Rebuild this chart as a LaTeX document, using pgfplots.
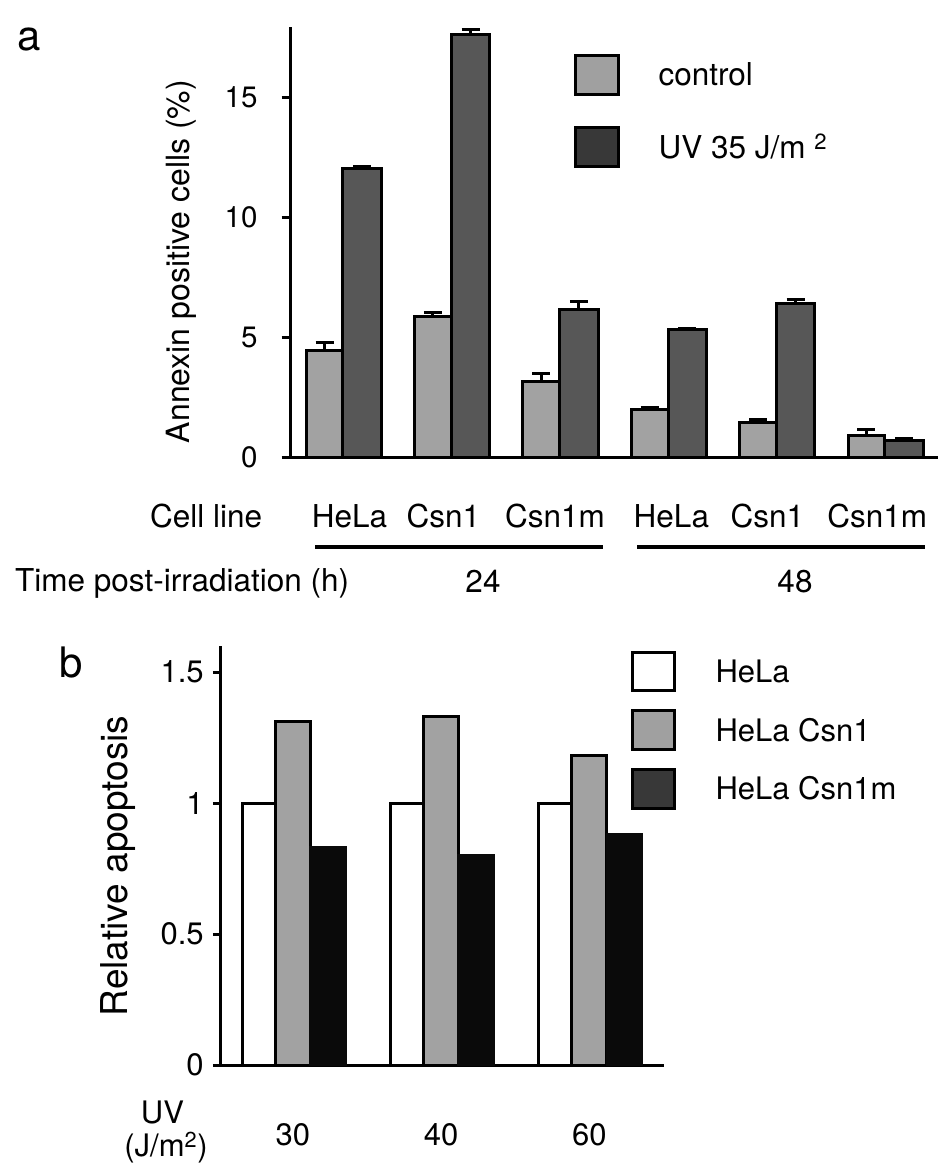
\documentclass[border=0pt]{standalone}
\usepackage{pgfplots}
\pgfplotsset{compat=1.18}
\usepackage{pgfplotstable}
\usepackage{fontspec}
\setmainfont{TeX Gyre Heros}
\definecolor{lg}{HTML}{A2A2A2}
\definecolor{lgleg}{HTML}{A0A0A0}
\definecolor{dgbar}{HTML}{575757}
\definecolor{dgleg}{HTML}{383838}
\definecolor{blk}{HTML}{0A0A0A}
\newcommand\fs[1]{\fontsize{#1bp}{#1bp}\selectfont}
\pgfplotsset{
  legboxa/.style={legend image code/.code={\draw[##1] (0bp,-19.5bp) rectangle (43bp,19.5bp);}},
  legboxb/.style={legend image code/.code={\draw[##1] (0bp,-19.3bp) rectangle (41.5bp,19.3bp);}},
}

% group position x; control bar at x-0.17, UV bar at x+0.1775
\pgfplotstableread{
xc xu c ce u ue
-0.17 0.1775 4.46 0.31 12.06 0.05
0.83 1.1775 5.88 0.17 17.65 0.21
1.83 2.1775 3.17 0.32 6.16 0.34
2.83 3.1775 1.99 0.07 5.32 0.04
3.83 4.1775 1.47 0.10 6.43 0.14
4.83 5.1775 0.92 0.26 0.72 0.08
}\tabA

\pgfplotstableread{
x h c m
0 1.00 1.31 0.83
1 1.00 1.33 0.80
2 1.00 1.18 0.88
}\tabB

\begin{document}
\begin{tikzpicture}
\path[use as bounding box] (0,0) rectangle (945bp,-1175bp);

% ---------------- panel a ----------------
\node[anchor=base west, inner sep=0pt, font=\fs{42}] at (17bp,-50bp) {a};
\begin{axis}[
  at={(290.6bp,-457.3bp)}, anchor=south west,
  scale only axis, width=647.4bp, height=430.4bp,
  xmin=-0.483, xmax=5.49, ymin=0, ymax=17.95,
  axis lines=left, axis line style={-, line width=3bp, black},
  tick align=outside, major tick length=9bp,
  ytick={0,5,10,15}, yticklabels={0,5,10,15},
  ytick style={line width=3bp, black},
  yticklabel style={anchor=east, inner sep=0pt, xshift=-24bp, font=\fs{29.5}},
  xtick={0.06,0.927,1.956,3.03,3.916,4.93},
  xticklabels={HeLa,Csn1,Csn1m,HeLa,Csn1,Csn1m},
  xtick style={draw=none},
  xticklabel style={anchor=base, inner sep=0pt, yshift=-61bp, font=\fs{31.5}},
  ylabel={Annexin positive cells (\%)},
  ylabel style={at={(axis description cs:-0.1554,0.455)}, anchor=base, font=\fs{32}, inner sep=0pt},
  legend style={at={(axis description cs:0.437,0.9375)}, anchor=north west,
    draw=none, fill=none, inner sep=0pt, outer sep=0pt,
    column sep=39bp, row sep=30bp, font=\fs{31.5},
    nodes={inner sep=0pt}},
  legend cell align=left,
]
\addplot[ybar, bar width=0.34, bar shift=0, fill=lg, draw=black, line width=3bp, forget plot,
  error bars/.cd, y dir=plus, y explicit, error mark=|,
  error bar style={line width=3bp, black},
  error mark options={mark size=9bp, line width=3bp, black}]
  table[x=xc, y=c, y error plus=ce] {\tabA};
\addplot[ybar, bar width=0.355, bar shift=0, fill=dgbar, draw=black, line width=3bp, forget plot,
  error bars/.cd, y dir=plus, y explicit, error mark=|,
  error bar style={line width=3bp, black},
  error mark options={mark size=9bp, line width=3bp, black}]
  table[x=xu, y=u, y error plus=ue] {\tabA};
\addlegendimage{legboxa, fill=lgleg, draw=black, line width=3bp}
\addlegendentry{control}
\addlegendimage{legboxa, fill=dgleg, draw=black, line width=3bp}
\addlegendentry{UV 35 J/m \textsuperscript{2}}
\end{axis}

\node[anchor=base west, inner sep=0pt, font=\fs{31.5}] at (150bp,-527bp) {Cell line};
\draw[line width=4bp] (315bp,-547bp) -- (603bp,-547bp);
\draw[line width=4bp] (637bp,-547bp) -- (925bp,-547bp);
\node[anchor=base west, inner sep=0pt, font=\fs{31.5}] at (15bp,-591bp) {Time post-irradiation (h)};
\node[anchor=base, inner sep=0pt, font=\fs{31.5}] at (483bp,-592bp) {24};
\node[anchor=base, inner sep=0pt, font=\fs{31.5}] at (795bp,-592bp) {48};

% ---------------- panel b ----------------
\node[anchor=base west, inner sep=0pt, font=\fs{42}] at (59bp,-677bp) {b};
\begin{axis}[
  at={(220.9bp,-1065bp)}, anchor=south west,
  scale only axis, width=442.6bp, height=419.2bp,
  xmin=-0.486, xmax=2.5, ymin=0, ymax=1.6,
  axis lines=left, axis line style={-, line width=3bp, black},
  tick align=outside, major tick length=8bp,
  ytick={0,0.5,1,1.5}, yticklabels={0,0.5,1,1.5},
  ytick style={line width=3bp, black},
  yticklabel style={anchor=east, inner sep=0pt, xshift=-9bp, font=\fs{31}},
  xtick={0,1,2}, xticklabels={30,40,60},
  xtick style={draw=none},
  xticklabel style={anchor=base, inner sep=0pt, yshift=-72bp, font=\fs{31}},
  ylabel={Relative apoptosis},
  ylabel style={at={(axis description cs:-0.21,0.4747)}, anchor=base, font=\fs{37}, inner sep=0pt},
  legend style={at={(axis description cs:0.9266,0.988)}, anchor=north west,
    draw=none, fill=none, inner sep=0pt, outer sep=0pt,
    column sep=40bp, row sep=17bp, font=\fs{31},
    nodes={inner sep=0pt}},
  legend cell align=left,
]
\addplot[ybar, bar width=0.225, bar shift=-0.228, fill=white, draw=black, line width=3bp, forget plot]
  table[x=x, y=h] {\tabB};
\addplot[ybar, bar width=0.235, bar shift=0, fill=lg, draw=black, line width=3bp, forget plot]
  table[x=x, y=c] {\tabB};
\addplot[ybar, bar width=0.235, bar shift=0.237, fill=blk, draw=blk, line width=3bp, forget plot]
  table[x=x, y=m] {\tabB};
\addlegendimage{legboxb, fill=white, draw=black, line width=3bp}
\addlegendentry{HeLa}
\addlegendimage{legboxb, fill=lgleg, draw=black, line width=3bp}
\addlegendentry{HeLa Csn1}
\addlegendimage{legboxb, fill=dgleg, draw=black, line width=3bp}
\addlegendentry{HeLa Csn1m}
\end{axis}

\node[anchor=base, inner sep=0pt, font=\fs{31}] at (162.5bp,-1123bp) {UV};
\node[anchor=base, inner sep=0pt, font=\fs{31}] at (166bp,-1156bp) {(J/m\textsuperscript{2})};
\end{tikzpicture}
\end{document}
